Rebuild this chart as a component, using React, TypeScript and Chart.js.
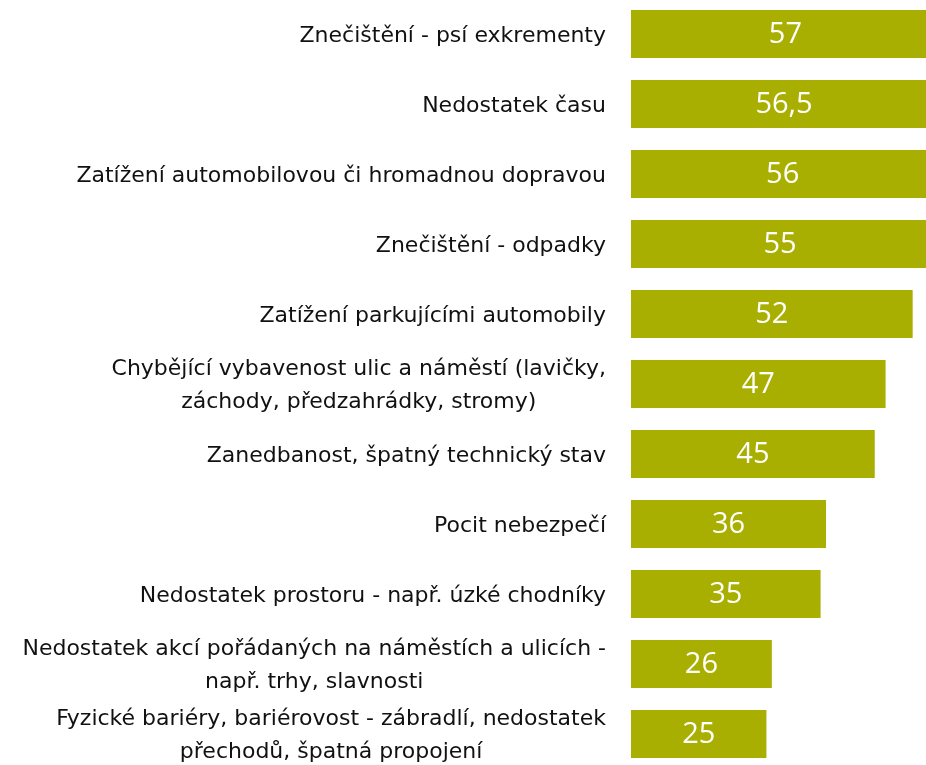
import React, { useEffect, useRef } from "react";
import { Chart, registerables } from "chart.js";

Chart.register(...registerables);

const categories: (string | string[])[] = [
  "Znečištění - psí exkrementy",
  "Nedostatek času",
  "Zatížení automobilovou či hromadnou dopravou",
  "Znečištění - odpadky",
  "Zatížení parkujícími automobily",
  ["Chybějící vybavenost ulic a náměstí (lavičky,", "záchody, předzahrádky, stromy)"],
  "Zanedbanost, špatný technický stav",
  "Pocit nebezpečí",
  "Nedostatek prostoru - např. úzké chodníky",
  ["Nedostatek akcí pořádaných na náměstích a ulicích -", "např. trhy, slavnosti"],
  ["Fyzické bariéry, bariérovost - zábradlí, nedostatek", "přechodů, špatná propojení"],
];

const values: number[] = [57, 56.5, 56, 55, 52, 47, 45, 36, 35, 26, 25];

const TICK_FONT = "'DejaVu Sans', sans-serif";
const VALUE_FONT = "'Open Sans', 'Noto Sans', sans-serif";
const TICK_SIZE = 22;
const LINE_H = 33;
const LABEL_GAP = 25;

const labelPlugin = {
  id: "barLabels",
  afterDatasetsDraw(chart: any) {
    const ctx = chart.ctx;
    const meta = chart.getDatasetMeta(0);
    ctx.save();
    ctx.fillStyle = "#ffffff";
    ctx.font = `29px ${VALUE_FONT}`;
    ctx.textAlign = "center";
    ctx.textBaseline = "middle";
    meta.data.forEach((el: any, i: number) => {
      const cx = (el.x + el.base) / 2;
      const txt = String(values[i]).replace(".", ",");
      ctx.fillText(txt, cx, el.y + 1);
    });
    ctx.restore();
  },
};

const categoryLabelPlugin = {
  id: "categoryLabels",
  afterDraw(chart: any) {
    const ctx = chart.ctx;
    const yScale = chart.scales.y;
    const right = chart.chartArea.left - LABEL_GAP;
    ctx.save();
    ctx.fillStyle = "#111111";
    ctx.font = `${TICK_SIZE}px ${TICK_FONT}`;
    ctx.textAlign = "center";
    ctx.textBaseline = "middle";
    categories.forEach((cat, i) => {
      const lines = Array.isArray(cat) ? cat : [cat];
      const maxW = Math.max(...lines.map((l) => ctx.measureText(l).width));
      const cx = right - maxW / 2;
      const yc = yScale.getPixelForValue(i) + 2;
      const y0 = yc - ((lines.length - 1) * LINE_H) / 2;
      lines.forEach((l, j) => ctx.fillText(l, cx, y0 + j * LINE_H));
    });
    ctx.restore();
  },
};

export default function App() {
  const ref = useRef<HTMLCanvasElement>(null);
  useEffect(() => {
    const chart = new Chart(ref.current!, {
      type: "bar",
      data: {
        labels: categories,
        datasets: [
          {
            data: values,
            backgroundColor: "#A8AF00",
            borderWidth: 0,
            categoryPercentage: 1,
            barPercentage: 0.686,
          },
        ],
      },
      options: {
        indexAxis: "y",
        animation: false,
        responsive: false,
        layout: { padding: 0 },
        plugins: {
          legend: { display: false },
          tooltip: { enabled: false },
        },
        scales: {
          x: { display: false, min: 0, max: 60 },
          y: {
            grid: { display: false, drawTicks: false },
            border: { display: false },
            ticks: { display: false },
            afterFit: (scale: any) => {
              scale.width = 631;
              scale.paddingTop = 0;
              scale.paddingBottom = 0;
            },
          },
        },
      },
      plugins: [labelPlugin, categoryLabelPlugin],
    });
    return () => chart.destroy();
  }, []);
  return (
    <div
      style={{
        position: "fixed",
        left: 0,
        top: -1,
        width: 926,
        height: 766,
        overflow: "hidden",
        background: "#fff",
      }}
    >
      <canvas ref={ref} width={956} height={770} style={{ width: 956, height: 770 }} />
    </div>
  );
}
